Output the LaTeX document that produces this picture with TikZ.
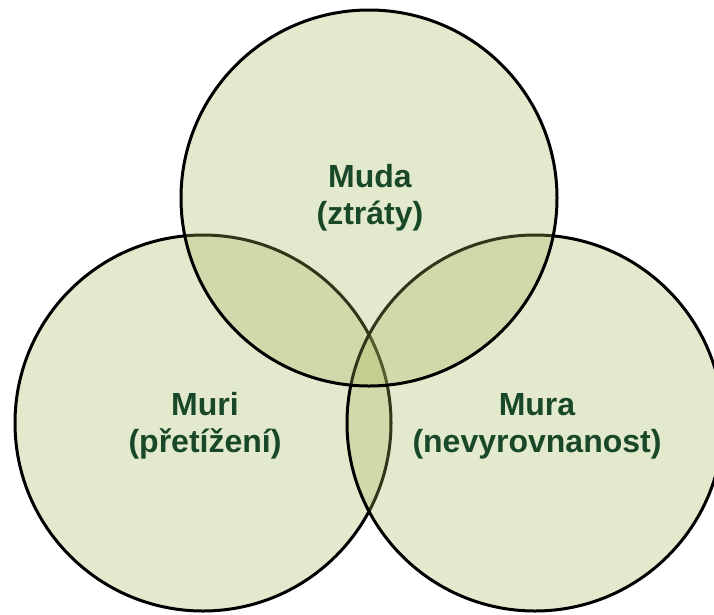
\documentclass[tikz,border=0pt]{standalone}
\usepackage{fontspec}
\setmainfont{Liberation Sans}
\definecolor{ringfill}{RGB}{162,182,88}
\definecolor{labelgreen}{RGB}{24,72,40}
\begin{document}
\begin{tikzpicture}[x=1pt,y=-1pt,
  ring/.style={draw=black, line width=3pt, fill=ringfill, fill opacity=0.3},
  ringlabel/.style={align=center, text=labelgreen, font=\fontsize{32}{37}\selectfont\bfseries, inner sep=0pt}]
\useasboundingbox (0,0) rectangle (714,614);
\begin{scope}
\clip (0,0) rectangle (714,614);
% back to front: left, right, top
\path[ring] (203,423) circle[radius=188pt];
\path[ring] (535,423) circle[radius=188pt];
\path[ring] (369,198) circle[radius=188pt];
\end{scope}
\node[ringlabel] (muda) at (370,198) {Muda\\(ztráty)};
\node[ringlabel] (muri) at (205,426) {Muri\\(přetížení)};
\node[ringlabel] (mura) at (537,426) {Mura\\(nevyrovnanost)};
\end{tikzpicture}
\end{document}
